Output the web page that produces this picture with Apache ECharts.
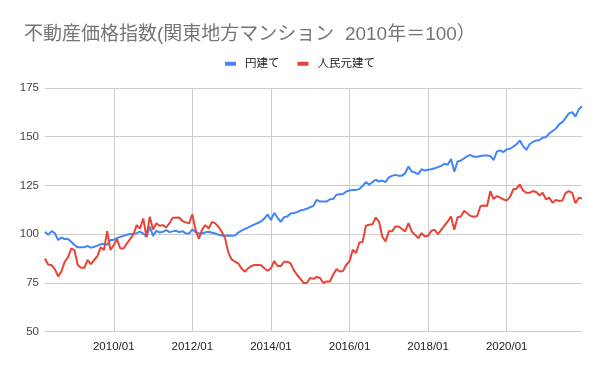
<!DOCTYPE html>
<html>
<head>
<meta charset="utf-8">
<script src="https://cdn.jsdelivr.net/npm/echarts@6/dist/echarts.min.js"></script>
<style>
html,body{margin:0;padding:0;background:#fff;}
#chart{width:600px;height:371px;}
</style>
</head>
<body>
<div id="chart"></div>
<script>
// Monthly, 2008/04 .. 2021/12
const startYear = 2008, startMonth = 4, monthCount = 165;
const months = [];
for (let k = 0; k < monthCount; k++) {
  const m = startMonth - 1 + k;
  const y = startYear + Math.floor(m / 12);
  const mm = (m % 12) + 1;
  months.push(y + '/' + (mm < 10 ? '0' + mm : '' + mm));
}

const seriesNames = ['円建て', '人民元建て'];

const yenIndex = [
  101.2, 99.6, 101.5, 100.5, 97, 98.2, 97.5, 97.5, 96.1, 94.4,
  93.2, 93.2, 93.2, 94, 93, 93.5, 94.1, 94.8, 95, 94.5,
  97, 97, 98, 98.6, 99.1, 99.7, 100, 100.2, 100.5, 101.3,
  100.3, 98.6, 103.8, 99.1, 101.7, 100.8, 101.2, 102.1, 101, 101.4,
  101.7, 101, 101.5, 100.3, 100.3, 102.4, 101, 100.3, 100.3, 100.9,
  101.2, 100.7, 100.3, 99.7, 99.3, 99.2, 99.3, 99.2, 99.3, 100.8,
  101.8, 102.6, 103.3, 104.2, 105, 105.7, 106.5, 108, 110.1, 107.2,
  110.9, 108.5, 106.3, 108.7, 109, 110.6, 110.8, 111.3, 112.1, 112.5,
  113, 113.8, 114.5, 117.6, 116.7, 116.7, 116.7, 117.9, 118, 120.2,
  120.5, 120.6, 121.9, 122.4, 122.7, 122.7, 123.1, 124.8, 126.7, 125.3,
  126.7, 127.9, 127, 127.5, 126.7, 129.1, 129.9, 130.4, 129.9, 130,
  131.3, 134.7, 132.1, 131.6, 130.8, 133.3, 132.6, 133, 133.3, 133.8,
  134.4, 135, 136.1, 135.6, 138.5, 132.1, 137.3, 137.8, 138.9, 140.1,
  140.6, 139.7, 139.7, 140.1, 140.4, 140.4, 140.1, 138, 142.3, 143,
  142.1, 143.5, 143.8, 144.9, 146.1, 148.1, 145.2, 143.2, 146.1, 147.3,
  148.1, 148.3, 149.5, 149.8, 151.7, 152.9, 154.1, 156.3, 157.5, 159.7,
  162, 162.6, 160.3, 164, 165.7
];

const cnyIndex = [
  87.5, 84.3, 84.1, 82, 78.3, 80.7, 85.8, 88, 92.6, 91.8,
  84.1, 82.7, 82.7, 86.8, 84.6, 86.7, 88.7, 93.2, 91.8, 101.5,
  91.8, 94.4, 97.4, 92.6, 92.6, 95.2, 97.4, 99.8, 104.6, 102.9,
  108, 98.6, 108.9, 102.4, 105.5, 104.3, 104.6, 103.4, 105.5, 108.4,
  108.4, 108.5, 106.7, 106, 105.5, 110.1, 102, 97.6, 102.4, 104.6,
  102.9, 106.3, 105.5, 103.8, 101.2, 97.8, 90.5, 87, 85.8, 85,
  82.4, 80.7, 82.4, 83.6, 84.1, 84.1, 84, 82.5, 81.2, 82.4,
  86.2, 83.6, 83.6, 85.8, 85.8, 85, 81.5, 79, 77, 74.9,
  75, 77.5, 77, 78, 77.5, 74.9, 75.7, 75.7, 79.1, 82,
  80.8, 81, 84.3, 86, 92, 90.3, 95.7, 96, 104.3, 104.8,
  105, 108.5, 106.5, 98.8, 96.2, 101.4, 101.4, 103.9, 103.9, 102.6,
  101.4, 105.6, 101.4, 99.7, 97.9, 100.5, 98.8, 99.1, 101.7, 102.2,
  100, 102.2, 104.3, 106.5, 109.1, 102.2, 108.7, 109, 112, 110.6,
  109.3, 108.9, 109.3, 114.4, 114.7, 114.4, 122, 118, 119.5, 118.7,
  117.8, 117.3, 119, 122.9, 123.3, 125.5, 122.4, 121.2, 121.2, 122.1,
  121.6, 119.9, 121.2, 117.8, 118.7, 116.1, 117.5, 117, 117.3, 121.2,
  122.1, 121.2, 115.8, 118.7, 118.2
];

const yMin = 50, yMax = 175, yStep = 25;

function isMajor(idx, label) {
  const parts = label.split('/');
  return parts[1] === '01' && (parseInt(parts[0], 10) % 2 === 0);
}

const FONT = "'Liberation Sans', Arial, 'Noto Sans CJK JP', sans-serif";
const chart = echarts.init(document.getElementById('chart'), null, {renderer: 'canvas'});
chart.setOption({
  animation: false,
  backgroundColor: '#ffffff',
  color: ['#4285F4', '#EA4335'],
  title: {
    text: '不動産価格指数(関東地方マンション  2010年＝100）',
    left: 19, top: 20,
    textStyle: {fontSize: 19, fontWeight: 'normal', color: '#757575', fontFamily: FONT}
  },
  legend: {
    top: 53, left: 'center',
    icon: 'rect', itemWidth: 11, itemHeight: 4, itemGap: 18,
    textStyle: {fontSize: 11.5, color: '#222', fontFamily: FONT, padding: [0, 0, 0, 4]},
    data: seriesNames
  },
  grid: {left: 45, right: 18, top: 88, bottom: 39.5, containLabel: false},
  xAxis: {
    type: 'category',
    data: months,
    boundaryGap: false,
    axisLine: {show: false},
    axisTick: {show: false},
    axisLabel: {interval: isMajor, color: '#222', fontSize: 11.5, fontFamily: FONT, margin: 10},
    splitLine: {show: true, interval: isMajor, lineStyle: {color: '#cccccc', width: 1}}
  },
  yAxis: {
    type: 'value',
    min: yMin, max: yMax, interval: yStep,
    axisLine: {show: false},
    axisTick: {show: false},
    axisLabel: {color: '#444', fontSize: 11.5, fontFamily: FONT, margin: 6},
    splitLine: {lineStyle: {color: '#cccccc', width: 1}}
  },
  series: [
    {name: seriesNames[0], type: 'line', data: yenIndex, showSymbol: false, lineStyle: {width: 2}},
    {name: seriesNames[1], type: 'line', data: cnyIndex, showSymbol: false, lineStyle: {width: 2}}
  ]
});
</script>
</body>
</html>
